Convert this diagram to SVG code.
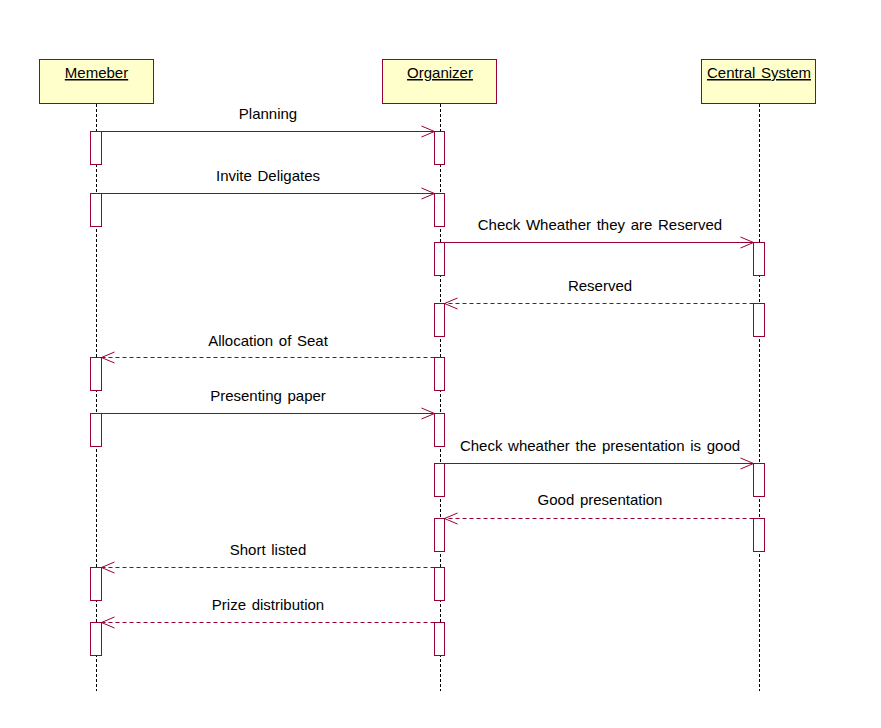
<svg xmlns="http://www.w3.org/2000/svg" width="881" height="728" viewBox="0 0 881 728">
<style>
.hdr{fill:#FFFFCC;stroke:#990033;stroke-width:1}
.ht{font-family:"Liberation Sans",Arial,sans-serif;font-size:15px;fill:#000;text-anchor:middle;text-decoration:underline;word-spacing:1.5px}
.life{stroke:#000;stroke-width:1;stroke-dasharray:3,2}
.act{fill:#fff;stroke:#990033;stroke-width:1}
.msg{stroke:#990033;stroke-width:1;fill:none}
.ret{stroke:#990033;stroke-width:1;fill:none;stroke-dasharray:4,3}
.lbl{font-family:"Liberation Sans",Arial,sans-serif;font-size:15px;fill:#000;text-anchor:middle;word-spacing:1.5px}
</style>
<defs>
<marker id="arr" markerUnits="userSpaceOnUse" markerWidth="16" markerHeight="14" refX="14" refY="7" orient="auto">
<path d="M1,1.5 L14,7 L1,12.5" fill="none" stroke="#990033" stroke-width="1"/>
</marker>
</defs>
<rect width="881" height="728" fill="#fff"/>

<g id="memeber">
<rect class="hdr" x="39.5" y="59.5" width="114" height="44"/>
<text class="ht" x="96.5" y="78">Memeber</text>
<line class="life" x1="96.5" y1="104" x2="96.5" y2="691"/>
<rect class="act" x="90.5" y="131.5" width="11" height="33"/>
<rect class="act" x="90.5" y="193.5" width="11" height="33"/>
<rect class="act" x="90.5" y="357.5" width="11" height="33"/>
<rect class="act" x="90.5" y="413.5" width="11" height="33"/>
<rect class="act" x="90.5" y="567.5" width="11" height="33"/>
<rect class="act" x="90.5" y="622.5" width="11" height="33"/>
</g>

<g id="organizer">
<rect class="hdr" x="382.5" y="59.5" width="114" height="44"/>
<text class="ht" x="440" y="78">Organizer</text>
<line class="life" x1="440.5" y1="104" x2="440.5" y2="691"/>
<rect class="act" x="434.5" y="131.5" width="10" height="33"/>
<rect class="act" x="434.5" y="193.5" width="10" height="33"/>
<rect class="act" x="434.5" y="242.5" width="10" height="33"/>
<rect class="act" x="434.5" y="303.5" width="10" height="33"/>
<rect class="act" x="434.5" y="357.5" width="10" height="33"/>
<rect class="act" x="434.5" y="413.5" width="10" height="33"/>
<rect class="act" x="434.5" y="463.5" width="10" height="33"/>
<rect class="act" x="434.5" y="518.5" width="10" height="33"/>
<rect class="act" x="434.5" y="567.5" width="10" height="33"/>
<rect class="act" x="434.5" y="622.5" width="10" height="33"/>
</g>

<g id="central_system">
<rect class="hdr" x="701.5" y="59.5" width="114" height="44"/>
<text class="ht" x="759" y="78">Central System</text>
<line class="life" x1="759.5" y1="104" x2="759.5" y2="691"/>
<rect class="act" x="753.5" y="242.5" width="11" height="33"/>
<rect class="act" x="753.5" y="303.5" width="11" height="33"/>
<rect class="act" x="753.5" y="463.5" width="11" height="33"/>
<rect class="act" x="753.5" y="518.5" width="11" height="33"/>
</g>

<g id="connectors">
<line class="msg" x1="101.5" y1="131.5" x2="434.5" y2="131.5" marker-end="url(#arr)"/>
<text class="lbl" x="268" y="119">Planning</text>

<line class="msg" x1="101.5" y1="193.5" x2="434.5" y2="193.5" marker-end="url(#arr)"/>
<text class="lbl" x="268" y="181">Invite Deligates</text>

<line class="msg" x1="444.5" y1="242.5" x2="753.5" y2="242.5" marker-end="url(#arr)"/>
<text class="lbl" x="600" y="230">Check Wheather they are Reserved</text>

<line class="ret" x1="753.5" y1="303.5" x2="444.5" y2="303.5" marker-end="url(#arr)"/>
<text class="lbl" x="600" y="291">Reserved</text>

<line class="ret" x1="434.5" y1="357.5" x2="101.5" y2="357.5" marker-end="url(#arr)"/>
<text class="lbl" x="268" y="346">Allocation of Seat</text>

<line class="msg" x1="101.5" y1="413.5" x2="434.5" y2="413.5" marker-end="url(#arr)"/>
<text class="lbl" x="268" y="401">Presenting paper</text>

<line class="msg" x1="444.5" y1="463.5" x2="753.5" y2="463.5" marker-end="url(#arr)"/>
<text class="lbl" x="600" y="451">Check wheather the presentation is good</text>

<line class="ret" x1="753.5" y1="518.5" x2="444.5" y2="518.5" marker-end="url(#arr)"/>
<text class="lbl" x="600" y="505">Good presentation</text>

<line class="ret" x1="434.5" y1="567.5" x2="101.5" y2="567.5" marker-end="url(#arr)"/>
<text class="lbl" x="268" y="555">Short listed</text>

<line class="ret" x1="434.5" y1="622.5" x2="101.5" y2="622.5" marker-end="url(#arr)"/>
<text class="lbl" x="268" y="610">Prize distribution</text>
</g>
</svg>
